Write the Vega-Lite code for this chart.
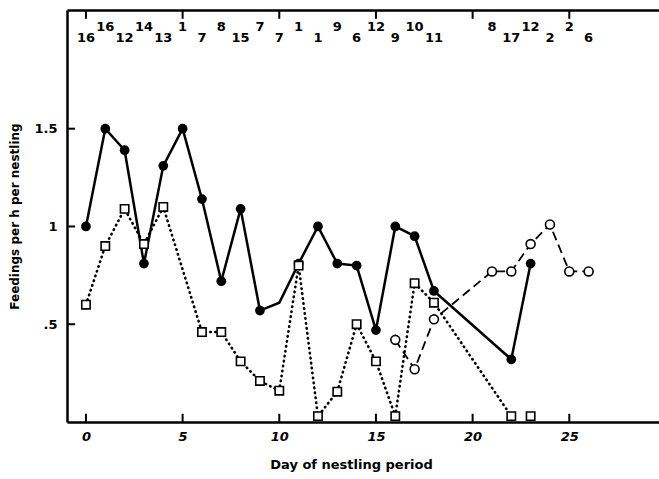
{
  "$schema": "https://vega.github.io/schema/vega-lite/v6.json",
  "width": 592,
  "height": 412,
  "autosize": {"type": "none"},
  "padding": {"left": 67, "top": 10, "right": 0, "bottom": 57},
  "background": "white",
  "config": {"view": {"stroke": null}, "font": "DejaVu Sans"},
  "datasets": {
    "filled": [
      {"day": 0, "value": 1.0, "dot": true},
      {"day": 1, "value": 1.5, "dot": true},
      {"day": 2, "value": 1.39, "dot": true},
      {"day": 3, "value": 0.81, "dot": true},
      {"day": 4, "value": 1.31, "dot": true},
      {"day": 5, "value": 1.5, "dot": true},
      {"day": 6, "value": 1.14, "dot": true},
      {"day": 7, "value": 0.72, "dot": true},
      {"day": 8, "value": 1.09, "dot": true},
      {"day": 9, "value": 0.57, "dot": true},
      {"day": 10, "value": 0.61, "dot": false},
      {"day": 11, "value": 0.81, "dot": true},
      {"day": 12, "value": 1.0, "dot": true},
      {"day": 13, "value": 0.81, "dot": true},
      {"day": 14, "value": 0.8, "dot": true},
      {"day": 15, "value": 0.47, "dot": true},
      {"day": 16, "value": 1.0, "dot": true},
      {"day": 17, "value": 0.95, "dot": true},
      {"day": 18, "value": 0.67, "dot": true},
      {"day": 22, "value": 0.32, "dot": true},
      {"day": 23, "value": 0.81, "dot": true}
    ],
    "squares": [
      {"day": 0, "value": 0.6, "joined": true},
      {"day": 1, "value": 0.9, "joined": true},
      {"day": 2, "value": 1.09, "joined": true},
      {"day": 3, "value": 0.91, "joined": true},
      {"day": 4, "value": 1.1, "joined": true},
      {"day": 6, "value": 0.46, "joined": true},
      {"day": 7, "value": 0.46, "joined": true},
      {"day": 8, "value": 0.31, "joined": true},
      {"day": 9, "value": 0.21, "joined": true},
      {"day": 10, "value": 0.16, "joined": true},
      {"day": 11, "value": 0.8, "joined": true},
      {"day": 12, "value": 0.03, "joined": true},
      {"day": 13, "value": 0.155, "joined": true},
      {"day": 14, "value": 0.5, "joined": true},
      {"day": 15, "value": 0.31, "joined": true},
      {"day": 16, "value": 0.03, "joined": true},
      {"day": 17, "value": 0.71, "joined": true},
      {"day": 18, "value": 0.61, "joined": true},
      {"day": 22, "value": 0.03, "joined": true},
      {"day": 23, "value": 0.03, "joined": false}
    ],
    "open": [
      {"day": 16, "value": 0.42},
      {"day": 17, "value": 0.27},
      {"day": 18, "value": 0.525},
      {"day": 21, "value": 0.77},
      {"day": 22, "value": 0.77},
      {"day": 23, "value": 0.91},
      {"day": 24, "value": 1.01},
      {"day": 25, "value": 0.77},
      {"day": 26, "value": 0.77}
    ],
    "counts": [
      {"day": 0, "n": 16}, {"day": 1, "n": 16}, {"day": 2, "n": 12}, {"day": 3, "n": 14},
      {"day": 4, "n": 13}, {"day": 5, "n": 1}, {"day": 6, "n": 7}, {"day": 7, "n": 8},
      {"day": 8, "n": 15}, {"day": 9, "n": 7}, {"day": 10, "n": 7}, {"day": 11, "n": 1},
      {"day": 12, "n": 1}, {"day": 13, "n": 9}, {"day": 14, "n": 6}, {"day": 15, "n": 12},
      {"day": 16, "n": 9}, {"day": 17, "n": 10}, {"day": 18, "n": 11}, {"day": 21, "n": 8},
      {"day": 22, "n": 17}, {"day": 23, "n": 12}, {"day": 24, "n": 2}, {"day": 25, "n": 2},
      {"day": 26, "n": 6}
    ],
    "xticks": [{"day": 0}, {"day": 5}, {"day": 10}, {"day": 15}, {"day": 20}, {"day": 25}],
    "yticks": [{"value": 0.5}, {"value": 1}, {"value": 1.5}]
  },
  "layer": [
    {
      "data": {"name": "filled"},
      "mark": {"type": "line", "color": "black", "strokeWidth": 2.5},
      "encoding": {
        "x": {
          "field": "day", "type": "quantitative",
          "scale": {"domain": [-0.98, 29.64], "nice": false, "zero": false},
          "axis": {
            "orient": "bottom", "values": [0, 5, 10, 15, 20, 25], "grid": false,
            "ticks": false,
            "domainColor": "black", "domainWidth": 2.5,
            "labelFont": "DejaVu Sans", "labelFontWeight": "bold", "labelFontSize": 13,
            "labelFontStyle": "italic", "labelColor": "black", "labelPadding": 8,
            "title": "Day of nestling period", "titleFont": "DejaVu Sans",
            "titleFontWeight": "bold", "titleFontSize": 13, "titleColor": "black",
            "titlePadding": 15, "titleX": 284
          }
        },
        "y": {
          "field": "value", "type": "quantitative",
          "scale": {"domain": [0, 2.107], "nice": false},
          "axis": {
            "values": [0.5, 1, 1.5], "grid": false,
            "labelExpr": "datum.value < 1 ? '.5' : format(datum.value, '~g')",
            "ticks": false,
            "domainColor": "black", "domainWidth": 2.5,
            "labelFont": "DejaVu Sans", "labelFontWeight": "bold", "labelFontSize": 13,
            "labelColor": "black", "labelPadding": 10,
            "title": "Feedings per h per nestling", "titleFont": "DejaVu Sans",
            "titleFontWeight": "bold", "titleFontSize": 12, "titleColor": "black",
            "titlePadding": 12
          }
        }
      }
    },
    {
      "data": {"name": "xticks"},
      "mark": {"type": "rule", "color": "black", "strokeWidth": 2},
      "encoding": {
        "x": {"field": "day", "type": "quantitative", "axis": null},
        "y": {"datum": 0, "type": "quantitative"},
        "y2": {"datum": 0.042}
      }
    },
    {
      "data": {"name": "xticks"},
      "mark": {"type": "rule", "color": "black", "strokeWidth": 2},
      "encoding": {
        "x": {"field": "day", "type": "quantitative", "axis": null},
        "y": {"datum": 2.107, "type": "quantitative"},
        "y2": {"datum": 2.062}
      }
    },
    {
      "data": {"name": "yticks"},
      "mark": {"type": "rule", "color": "black", "strokeWidth": 2},
      "encoding": {
        "x": {"datum": -0.98, "type": "quantitative", "axis": null},
        "x2": {"datum": -0.56},
        "y": {"field": "value", "type": "quantitative"}
      }
    },
    {
      "data": {"name": "squares"},
      "transform": [{"filter": "datum.joined"}],
      "mark": {"type": "line", "color": "black", "strokeWidth": 2.6, "strokeDash": [0.5, 4.5], "strokeCap": "round"},
      "encoding": {
        "x": {"field": "day", "type": "quantitative", "axis": null},
        "y": {"field": "value", "type": "quantitative"}
      }
    },
    {
      "data": {"name": "open"},
      "mark": {"type": "line", "color": "black", "strokeWidth": 1.8, "strokeDash": [9, 5]},
      "encoding": {
        "x": {"field": "day", "type": "quantitative", "axis": null},
        "y": {"field": "value", "type": "quantitative"}
      }
    },
    {
      "data": {"name": "filled"},
      "transform": [{"filter": "datum.dot"}],
      "mark": {"type": "point", "shape": "circle", "filled": true, "color": "black", "size": 95, "opacity": 1},
      "encoding": {
        "x": {"field": "day", "type": "quantitative", "axis": null},
        "y": {"field": "value", "type": "quantitative"}
      }
    },
    {
      "data": {"name": "squares"},
      "mark": {"type": "point", "shape": "square", "filled": true, "fill": "white", "stroke": "black", "strokeWidth": 1.6, "size": 70, "opacity": 1},
      "encoding": {
        "x": {"field": "day", "type": "quantitative", "axis": null},
        "y": {"field": "value", "type": "quantitative"}
      }
    },
    {
      "data": {"name": "open"},
      "mark": {"type": "point", "shape": "circle", "filled": true, "fill": "white", "stroke": "black", "strokeWidth": 1.6, "size": 80, "opacity": 1},
      "encoding": {
        "x": {"field": "day", "type": "quantitative", "axis": null},
        "y": {"field": "value", "type": "quantitative"}
      }
    },
    {
      "data": {"name": "counts"},
      "transform": [{"filter": "datum.day % 2 == 1"}],
      "mark": {"type": "text", "font": "DejaVu Sans", "fontWeight": "bold", "fontSize": 13, "color": "black", "baseline": "middle"},
      "encoding": {
        "x": {
          "field": "day", "type": "quantitative",
          "axis": {
            "orient": "top", "labels": false, "grid": false, "ticks": false,
            "domainColor": "black", "domainWidth": 2.5, "title": null
          }
        },
        "y": {"datum": 2.02, "type": "quantitative"},
        "text": {"field": "n", "type": "nominal"}
      }
    },
    {
      "data": {"name": "counts"},
      "transform": [{"filter": "datum.day % 2 == 0"}],
      "mark": {"type": "text", "font": "DejaVu Sans", "fontWeight": "bold", "fontSize": 13, "color": "black", "baseline": "middle"},
      "encoding": {
        "x": {"field": "day", "type": "quantitative", "axis": null},
        "y": {"datum": 1.964, "type": "quantitative"},
        "text": {"field": "n", "type": "nominal"}
      }
    }
  ],
  "resolve": {"axis": {"x": "independent"}}
}
